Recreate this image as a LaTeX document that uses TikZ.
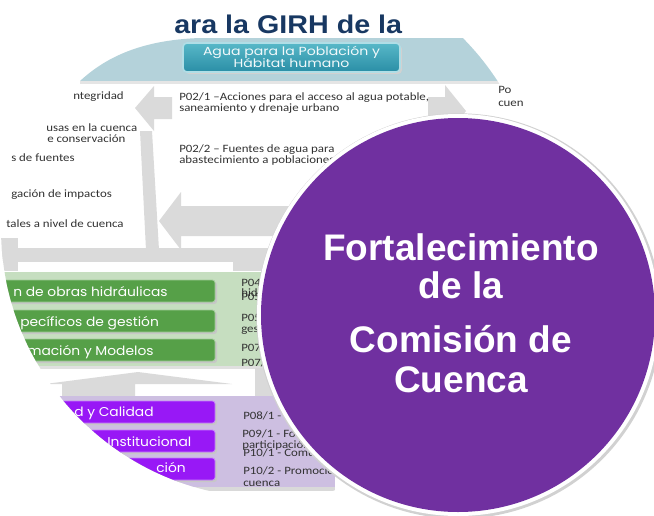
\documentclass[tikz,border=0pt]{standalone}
\usepackage{fontspec}
\setmainfont{Liberation Sans}
\newfontfamily\calibri[FakeStretch=1.15]{Carlito}
\newfontfamily\gothic[FakeStretch=1.08]{Poppins}
\newfontfamily\gothicwide[FakeStretch=1.2]{Poppins}
\newfontfamily\arialwide[FakeStretch=1.12]{Liberation Sans}
\definecolor{circpurple}{RGB}{112,48,160}
\definecolor{boxviolet}{RGB}{152,24,246}
\definecolor{lilac}{RGB}{205,191,225}
\definecolor{boxgreen}{RGB}{86,160,72}
\definecolor{palegreen}{RGB}{198,222,192}
\definecolor{arrowgray}{RGB}{218,218,218}
\definecolor{bandblue}{RGB}{180,210,218}
\definecolor{tealtop}{RGB}{88,184,200}
\definecolor{tealbot}{RGB}{42,142,166}
\definecolor{tealedge}{RGB}{176,222,230}
\definecolor{titlenavy}{RGB}{24,56,98}
\definecolor{bodygray}{RGB}{50,50,50}

\begin{document}
\begin{tikzpicture}[x=0.75pt, y=-0.75pt,
  note/.style = {font=\calibri\fontsize{8.4}{10}\selectfont, text=bodygray, anchor=base west, inner sep=0pt},
  boxlabel/.style = {font=\gothic\fontsize{9.6}{12}\selectfont, text=white, anchor=base west, inner sep=0pt},
  tealtext/.style = {font=\gothicwide\fontsize{8.8}{10}\selectfont, text=white!92!tealtop, anchor=base, inner sep=0pt},
  greenbox/.style = {fill=boxgreen, draw=boxgreen!55!white, line width=0.6pt, rounded corners=2pt},
  violetbox/.style = {fill=boxviolet, draw=boxviolet!55!white, line width=0.6pt, rounded corners=2pt},
  boxshadow/.style = {fill=black!22, rounded corners=2pt},
  arrowpart/.style = {fill=arrowgray},
  headline/.style = {font=\bfseries\fontsize{27.75}{30}\selectfont, text=white, anchor=base}]
\useasboundingbox (0,0) rectangle (654,515);

\begin{scope}
  \clip (271,228) circle (202.5pt);
  \node[font=\arialwide\bfseries\fontsize{19.2}{22}\selectfont, text=titlenavy, anchor=base west, inner sep=0pt] (girh) at (174,33) {ara la GIRH de la};
  \fill[bandblue] (80,81) .. controls (105,58) and (140,40) .. (200,38) -- (600,38) -- (600,81) -- cycle;
  \fill[black!10] (80,81) rectangle (600,84);
  \fill[black!18, rounded corners=3pt] (185,45) rectangle (402,74);
  \path[top color=tealtop, bottom color=tealbot, draw=tealedge, line width=1.2pt, rounded corners=3pt] (183,43) rectangle (400,72);
  \node[tealtext] (agua) at (291.5,55.5) {Agua para la Población y};
  \node[tealtext] (habitat) at (291.5,67.5) {Hábitat humano};

  \fill[arrowpart] (172,97) -- (154,97) -- (154,86) -- (135,108) -- (154,131) -- (154,119) -- (172,119) -- cycle;
  \fill[arrowpart] (140,131) -- (152,131) -- (159,250) -- (146,250) -- cycle;
  \fill[arrowpart] (340,206) -- (181,206) -- (181,192) -- (159,221) -- (181,250) -- (181,236) -- (340,236) -- cycle;
  \fill[arrowpart] (428,97) -- (445,97) -- (445,85) -- (466,111) -- (445,137) -- (445,124) -- (428,124) -- cycle;

  \node[note] (integ) at (73,99) {ntegridad};
  \node[note] (causas) at (46,131) {usas en la cuenca};
  \node[note] (conserv) at (47,142) {e conservación};
  \node[note] (fuentes) at (11,161) {s de fuentes};
  \node[note] (impactos) at (11,197) {gación de impactos};
  \node[note] (nivel) at (6,227) {tales a nivel de cuenca};
  \node[note] (p021a) at (179,100) {P02/1 –Acciones para el acceso al agua potable,};
  \node[note] (p021b) at (179,111.5) {saneamiento y drenaje urbano};
  \node[note] (p022a) at (179,152) {P02/2 – Fuentes de agua para};
  \node[note] (p022b) at (179,163.5) {abastecimiento a poblaciones};

  \fill[arrowpart] (0,238) rectangle (18,262);
  \fill[arrowpart] (0,248) rectangle (340,271);
  \fill[white] (18,262) rectangle (233,272);

  \fill[black!12] (0,366) rectangle (330,369);
  \fill[palegreen] (0,272) rectangle (330,366);
  \fill[boxshadow] (-4,282) rectangle (217,304);
  \fill[boxshadow] (-4,312) rectangle (217,334);
  \fill[boxshadow] (-4,341) rectangle (217,363);
  \path[greenbox] (-5,280) rectangle (215,302);
  \path[greenbox] (-5,310) rectangle (215,332);
  \path[greenbox] (-5,339) rectangle (215,361);
  \node[boxlabel] (obras) at (13,296.5) {n de obras hidráulicas};
  \node[boxlabel] (gestion) at (20,326) {pecíficos de gestión};
  \node[boxlabel] (modelos) at (27,355) {mación y Modelos};
  \node[note] (p04) at (241,286.5) {P04};
  \node[note] (hid) at (241,296.5) {hid};
  \node[note] (p05a) at (241,300) {P05};
  \node[note] (p05b) at (241,321.5) {P05};
  \node[note] (ges) at (241,332.5) {ges};
  \node[note] (p07a) at (241,351) {P07};
  \node[note] (p07b) at (241,366) {P07/};

  \fill[arrowpart] (45,384) -- (138,372) -- (232,384) -- (135,384) -- (135,397) -- (62,397) -- (62,384) -- cycle;
  \fill[arrowpart] (255,368) rectangle (300,397);

  \fill[black!15] (40,400) rectangle (335,491);
  \fill[lilac] (40,396) rectangle (335,487);
  \fill[boxshadow] (41,403) rectangle (217,425);
  \fill[boxshadow] (41,432) rectangle (217,454);
  \fill[boxshadow] (41,460) rectangle (217,482);
  \path[violetbox] (40,401) rectangle (215,423);
  \path[violetbox] (40,430) rectangle (215,452);
  \path[violetbox] (40,458) rectangle (215,480);
  \node[boxlabel] (calidad) at (74,416.5) {d y Calidad};
  \node[boxlabel] (instit) at (107,446) {Institucional};
  \node[boxlabel] (comunic) at (156,472.5) {ción};
  \node[note] (p081) at (243,419) {P08/1 - I};
  \node[note] (p091) at (242,437.5) {P09/1 - For};
  \node[note] (partic) at (242,448.5) {participación};
  \node[note] (p101) at (243,456) {P10/1 - Comu};
  \node[note] (p102) at (243,474.5) {P10/2 - Promocio};
  \node[note] (cuenca) at (243,486.5) {cuenca};
\end{scope}

\node[note] (po) at (498,93) {Po};
\node[note] (cuen) at (498,106) {cuen};

\fill[black!18] (459,316) circle (152pt);
\fill[white] (458,315) circle (150.75pt);
\fill[circpurple] (458,315) circle (147.75pt);
\node[headline] (fortal) at (461,260) {Fortalecimiento};
\node[headline] (dela) at (461,298) {de la};
\node[headline] (comision) at (461,352) {Comisión de};
\node[headline] (cuencatext) at (461,392) {Cuenca};
\end{tikzpicture}
\end{document}
